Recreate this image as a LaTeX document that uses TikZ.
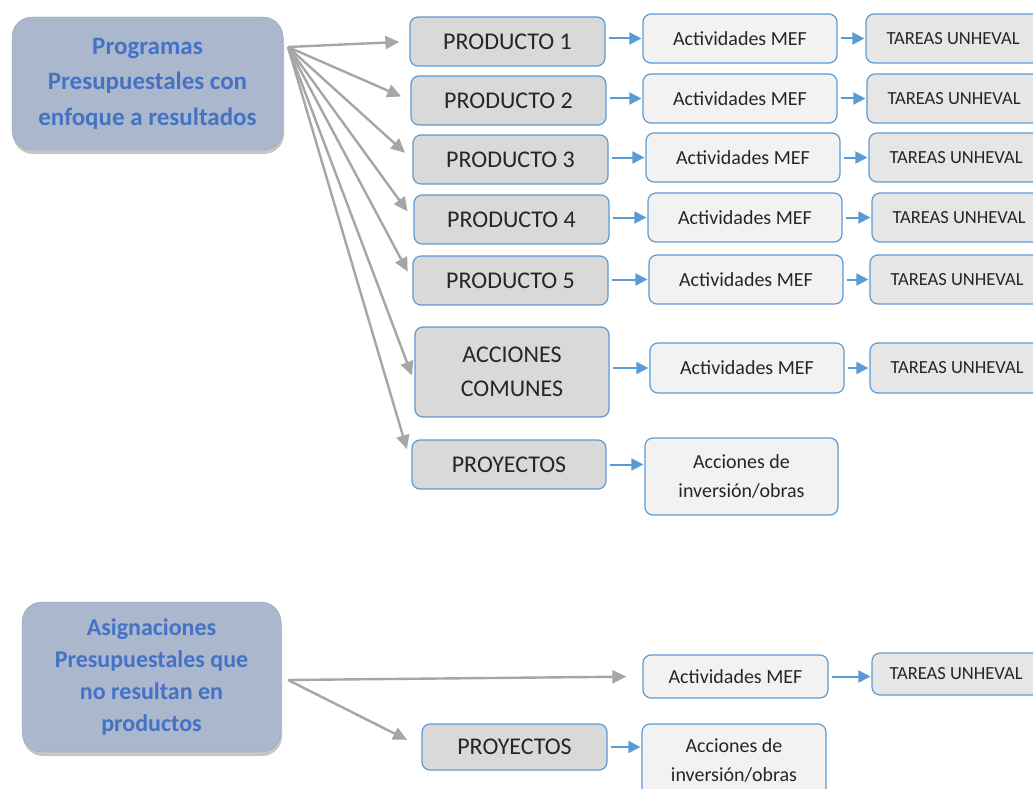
\documentclass[tikz,border=0pt]{standalone}
\usepackage{fontspec}
\setmainfont{Carlito}
\usetikzlibrary{arrows.meta, positioning, shadows}
\definecolor{prgfill}{RGB}{171,183,204}
\definecolor{prgtext}{RGB}{68,114,196}
\definecolor{boxline}{RGB}{91,155,213}
\definecolor{prodfill}{RGB}{217,217,217}
\definecolor{actfill}{RGB}{242,242,242}
\definecolor{tarfill}{RGB}{230,230,230}
\definecolor{grayarrow}{RGB}{166,166,166}
\definecolor{boxtext}{RGB}{38,38,38}
\tikzset{>=latex,
  prgbox/.style={rounded corners=20pt, fill=prgfill, draw=prgfill!90!black, line width=0.4pt, inner sep=0pt,
    text=prgtext, align=center, font=\bfseries,
    drop shadow={shadow xshift=1pt, shadow yshift=-4pt, opacity=0.45}},
  prodbox/.style={rounded corners=8pt, fill=prodfill, draw=boxline, line width=1.2pt, inner sep=0pt,
    minimum width=195pt, minimum height=49pt, text=boxtext, align=center, font=\fontsize{24}{34}\selectfont},
  actbox/.style={rounded corners=8pt, fill=actfill, draw=boxline, line width=1.2pt, inner sep=0pt,
    minimum width=194pt, minimum height=49pt, text=boxtext, align=center, font=\fontsize{20}{29}\selectfont},
  tarbox/.style={rounded corners=8pt, fill=tarfill, draw=boxline, line width=1.2pt, inner sep=0pt,
    minimum width=174pt, minimum height=49pt, text=boxtext, align=center, font=\fontsize{18.5}{22}\selectfont},
  grayarr/.style={draw=grayarrow, line width=2.4pt, -{Triangle[length=14pt, width=13pt]}},
  bluearr/.style={draw=boxline, line width=2pt, -{Triangle[length=12pt, width=12pt]}, shorten <=3pt, shorten >=1pt}
}
\begin{document}
\begin{tikzpicture}[x=1pt, y=-1pt]
\clip (0,0) rectangle (1033,789);
\fill[white] (0,0) rectangle (1033,789);

% programas presupuestales
\node[prgbox, minimum width=271pt, minimum height=133pt, font=\bfseries\fontsize{25}{35.5}\selectfont] (prg) at (147.5,83.5)
  {Programas\\Presupuestales con\\enfoque a resultados};
\coordinate (pp) at (288,47);

\foreach \i/\px/\py/\ax/\ay/\tx/\ty in {1/507.5/41.5/740/38.5/953/38.5, 2/508.5/100.5/740/98.5/954/98.5,
    3/510.5/159.5/743/157.5/956/157.5, 4/511.5/219.5/745/217.5/959/217.5, 5/510.5/280.5/746/279.5/957/279.5}{
  \node[prodbox] (prod\i) at (\px,\py) {PRODUCTO \i};
  \node[actbox] (act\i) at (\ax,\ay) {Actividades MEF};
  \node[tarbox] (tar\i) at (\tx,\ty) {TAREAS UNHEVAL};
  \draw[grayarr, shorten >=10pt] (pp) -- (prod\i.west);
  \draw[bluearr] (prod\i.east |- act\i) -- (act\i.west);
  \draw[bluearr] (act\i.east) -- (act\i.east -| tar\i.west);
}

\node[prodbox, minimum width=194pt, minimum height=90pt] (acc) at (512,372) {ACCIONES\\COMUNES};
\node[actbox, minimum height=50pt] (act6) at (747,368) {Actividades MEF};
\node[tarbox, minimum height=50pt] (tar6) at (957,368) {TAREAS UNHEVAL};
\draw[grayarr, shorten >=7pt] (pp) -- ([yshift=-10pt]acc.west);
\draw[bluearr] (acc.east |- act6) -- (act6.west);
\draw[bluearr] (act6.east) -- (tar6.west);

\node[prodbox, minimum width=194pt] (proy) at (509,464.5) {PROYECTOS};
\node[actbox, minimum width=193pt, minimum height=77pt] (inv) at (741.5,476.5) {Acciones de\\inversión/obras};
\draw[grayarr, shorten >=16pt] (pp) -- (proy.west);
\draw[bluearr] (proy.east) -- (proy.east -| inv.west);

% asignaciones presupuestales
\node[prgbox, minimum width=259pt, minimum height=150pt, font=\bfseries\fontsize{24}{32}\selectfont] (asg) at (151.5,677)
  {Asignaciones\\Presupuestales que\\no resultan en\\productos};
\coordinate (ap) at (288,680);
\node[actbox, minimum width=185pt, minimum height=43pt] (act7) at (735.5,676.5) {Actividades MEF};
\node[tarbox, minimum width=168pt, minimum height=42pt] (tar7) at (956,674) {TAREAS UNHEVAL};
\node[prodbox, minimum width=185pt, minimum height=46pt] (proy2) at (514.5,747) {PROYECTOS};
\node[actbox, minimum width=184pt, minimum height=72pt] (inv2) at (734,760) {Acciones de\\inversión/obras};
\draw[grayarr, shorten >=16pt] (ap) -- (act7.west);
\draw[grayarr, shorten >=16pt] (ap) -- (proy2.west);
\draw[bluearr] (act7.east) -- (act7.east -| tar7.west);
\draw[bluearr] (proy2.east) -- (proy2.east -| inv2.west);
\end{tikzpicture}
\end{document}
